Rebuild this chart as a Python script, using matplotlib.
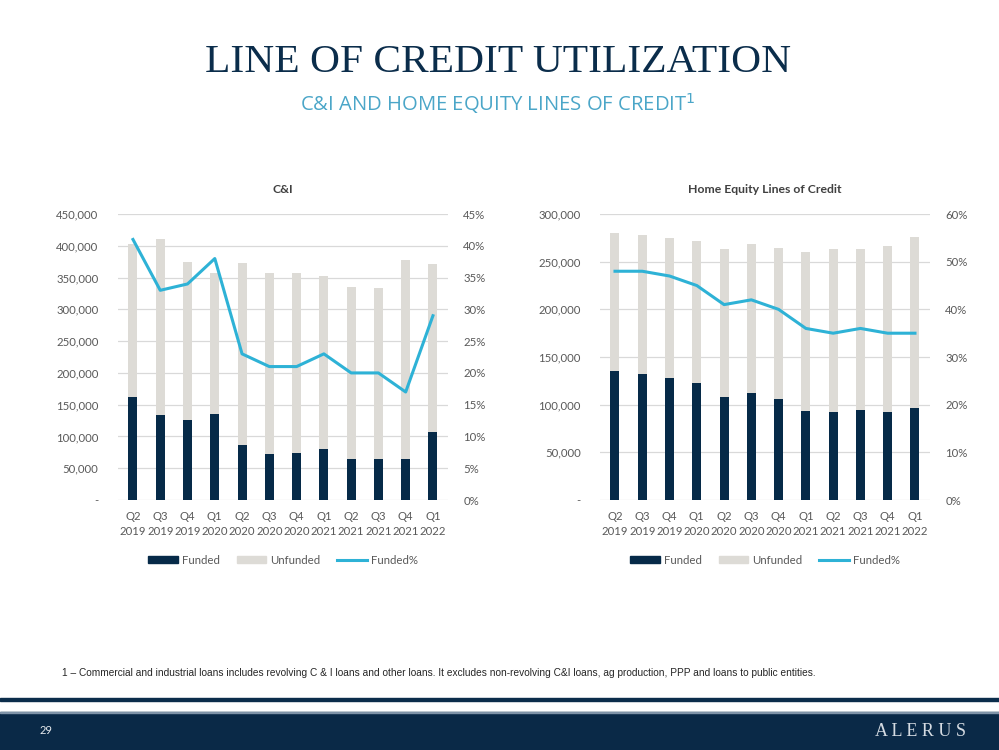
import matplotlib
matplotlib.use("Agg")
from matplotlib import pyplot as plt
from matplotlib.patches import Rectangle, Patch
from matplotlib.lines import Line2D
from matplotlib.ticker import FuncFormatter
import numpy as np

quarters = ['Q2\n2019', 'Q3\n2019', 'Q4\n2019', 'Q1\n2020', 'Q2\n2020', 'Q3\n2020',
            'Q4\n2020', 'Q1\n2021', 'Q2\n2021', 'Q3\n2021', 'Q4\n2021', 'Q1\n2022']

# C&I
ci_total = [403000, 410000, 375000, 357000, 373500, 358000, 358000, 352500, 335000, 333500, 377500, 372000]
ci_funded = [162500, 134000, 126500, 135500, 86000, 72500, 74500, 80000, 64500, 64500, 64000, 107000]
ci_pct = [41, 33, 34, 38, 23, 21, 21, 23, 20, 20, 17, 29]

# Home equity lines of credit
he_total = [280500, 277500, 275000, 272000, 263500, 269000, 264500, 260500, 263000, 263500, 266500, 276000]
he_funded = [135000, 132000, 128500, 122500, 108500, 112500, 106500, 93500, 92500, 94000, 92800, 97000]
he_pct = [48, 48, 47, 45, 41, 42, 40, 36, 35, 36, 35, 35]

navy = '#062A48'
grey = '#DDDBD6'
blue = '#2EB2D6'
txt = '#595959'

plt.rcParams['font.family'] = ['Lato', 'DejaVu Sans']

fig = plt.figure(figsize=(9.99, 7.5), dpi=100)


def draw_chart(rect, title, total, funded, pct, ymax, ystep, pmax, pstep):
    ax = fig.add_axes(rect)
    x = np.arange(len(quarters))
    unfunded = [t - f for t, f in zip(total, funded)]
    ax.bar(x, funded, width=0.33, color=navy, zorder=3)
    ax.bar(x, unfunded, bottom=funded, width=0.33, color=grey, zorder=3)
    ax.set_ylim(0, ymax)
    ax.set_xlim(-0.55, len(quarters) - 0.45)
    ax.set_yticks(np.arange(0, ymax + 1, ystep))
    ax.yaxis.set_major_formatter(FuncFormatter(lambda v, p: '-' if v == 0 else f'{int(v):,}'))
    ax.grid(axis='y', color='#D9D9D9', linewidth=0.9, zorder=0)
    ax.set_xticks(x)
    ax.set_xticklabels(quarters, linespacing=1.45)
    for s in ax.spines.values():
        s.set_visible(False)
    ax.tick_params(axis='both', length=0, labelsize=8.2, colors=txt)
    ax.tick_params(axis='y', pad=14)
    ax.tick_params(axis='x', pad=8)
    ax.set_title(title, fontsize=8.8, fontweight='bold', color='#404040', pad=15)

    ax2 = ax.twinx()
    ax2.plot(x, pct, color=blue, linewidth=2.2, zorder=4)
    ax2.set_ylim(0, pmax)
    ax2.set_yticks(np.arange(0, pmax + 1, pstep))
    ax2.yaxis.set_major_formatter(FuncFormatter(lambda v, p: f'{int(v)}%'))
    for s in ax2.spines.values():
        s.set_visible(False)
    ax2.tick_params(axis='y', length=0, labelsize=8.2, colors=txt, pad=11)

    handles = [Patch(color=navy), Patch(color=grey), Line2D([0], [0], color=blue, linewidth=2.2)]
    ax.legend(handles, ['Funded', 'Unfunded', 'Funded%'], loc='upper center',
              bbox_to_anchor=(0.5, -0.155), ncol=3, frameon=False, fontsize=8.2,
              handlelength=2.6, handleheight=0.5, handletextpad=0.35, columnspacing=1.5,
              labelcolor=txt)
    return ax


draw_chart([0.1181, 0.3333, 0.3303, 0.3813], 'C&I', ci_total, ci_funded, ci_pct,
           450000, 50000, 45, 5)
draw_chart([0.6006, 0.3333, 0.3303, 0.3813], 'Home Equity Lines of Credit', he_total, he_funded, he_pct,
           300000, 50000, 60, 10)

# header
fig.text(0.4985, 0.916, 'LINE OF CREDIT UTILIZATION', ha='center', va='center',
         fontsize=29.8, family='Liberation Serif', color='#0B2D4B')
fig.text(0.4985, 0.862, 'C&I AND HOME EQUITY LINES OF CREDIT$^{1}$', ha='center', va='center',
         fontsize=14.6, family='Open Sans', color='#4BA6C8')

# footnote
fig.text(0.062, 0.102, '1 \u2013 Commercial and industrial loans includes revolving C & I loans and other loans. '
         'It excludes non-revolving C&I loans, ag production, PPP and loans to public entities.',
         ha='left', va='center', fontsize=7.3, family='Liberation Sans', color='#262626')

# footer band
fig.patches.append(Rectangle((0, 0.0653), 1, 0.0035, transform=fig.transFigure, color='#0B2D4B'))
fig.patches.append(Rectangle((0, 0), 1, 0.0507, transform=fig.transFigure, color='#0A2947'))
fig.patches.append(Rectangle((0, 0.0493), 1, 0.0018, transform=fig.transFigure, color='#7F93A8'))
fig.text(0.046, 0.026, '29', ha='center', va='center', fontsize=8, color='#E6E9ED')
fig.text(0.921, 0.025, 'A L E R U S', ha='center', va='center', fontsize=13,
         family='Liberation Serif', color='#D5DBE2')

fig.savefig('out.png', dpi=100)
